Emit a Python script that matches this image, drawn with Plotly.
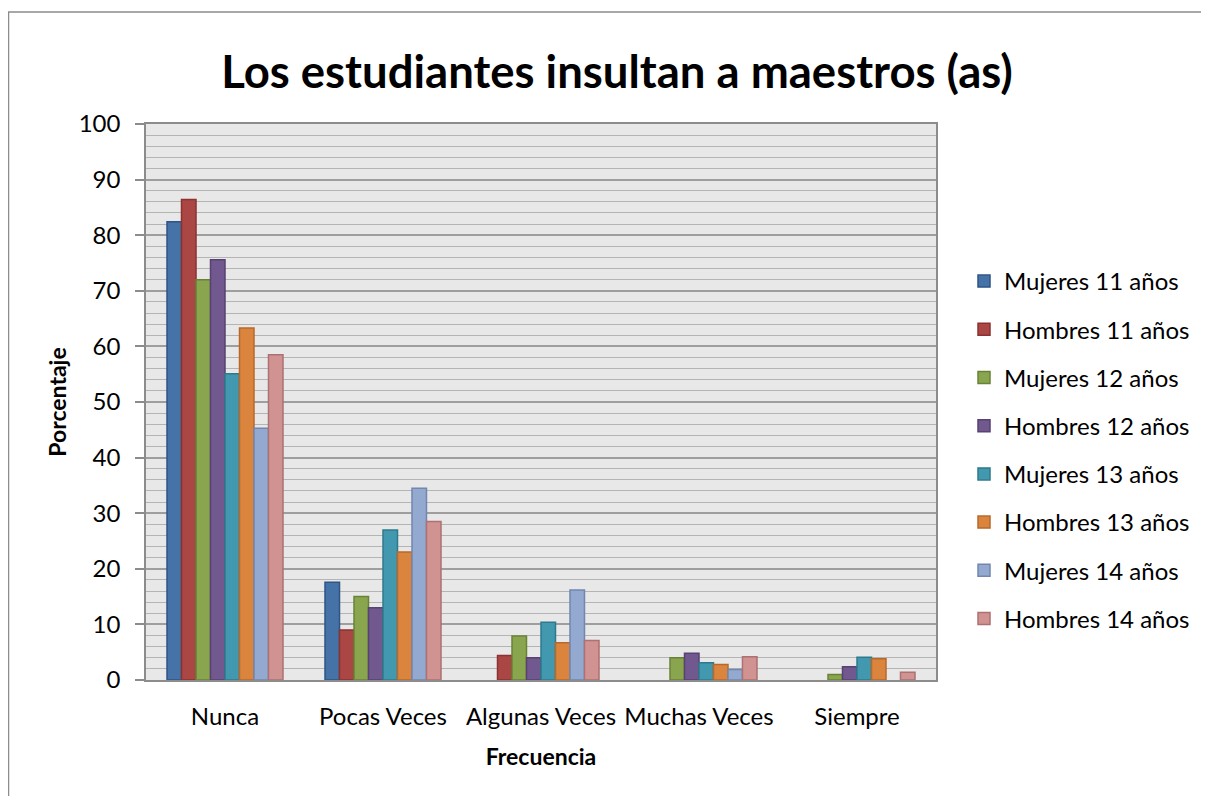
import plotly.graph_objects as go

categories = ["Nunca", "Pocas Veces", "Algunas Veces", "Muchas Veces", "Siempre"]
series_names = ["Mujeres 11 años", "Hombres 11 años", "Mujeres 12 años", "Hombres 12 años",
                "Mujeres 13 años", "Hombres 13 años", "Mujeres 14 años", "Hombres 14 años"]
mujeres_11 = [82.4, 17.6, 0.0, 0.0, 0.0]
hombres_11 = [86.4, 9.0, 4.4, 0.0, 0.0]
mujeres_12 = [72.0, 15.0, 7.9, 4.0, 1.0]
hombres_12 = [75.6, 13.0, 4.0, 4.8, 2.4]
mujeres_13 = [55.1, 27.0, 10.4, 3.1, 4.1]
hombres_13 = [63.3, 23.0, 6.7, 2.8, 3.8]
mujeres_14 = [45.3, 34.5, 16.2, 1.9, 0.0]
hombres_14 = [58.5, 28.5, 7.1, 4.2, 1.4]
series_values = [mujeres_11, hombres_11, mujeres_12, hombres_12,
                 mujeres_13, hombres_13, mujeres_14, hombres_14]
y_ticks = [0, 10, 20, 30, 40, 50, 60, 70, 80, 90, 100]

fills = ["#4572A7", "#AA4643", "#89A54E", "#71588F", "#4198AF", "#DB843D", "#93A9CF", "#D19392"]
borders = ["#2F5486", "#8A3330", "#6A8237", "#574270", "#2E7A8D", "#B8692A", "#7286B0", "#AC7170"]

FONT = "Lato"

fig = go.Figure()
for i, (name, vals) in enumerate(zip(series_names, series_values)):
    fig.add_trace(go.Bar(
        x=categories, y=[v if v else None for v in vals], name=name,
        marker=dict(color=fills[i], line=dict(color=borders[i], width=1.5)),
        legendgroup=f"g{i}",
    ))

# page offset of body margin
OFF = 8
W, H = 1209 - OFF, 796 - OFF
# plot area geometry in page px
L, R, T, B = 146 - OFF, 936 - OFF, 124 - OFF, 680 - OFF
pw, ph = R - L, B - T

def px_x(x):
    return (x - OFF - L) / pw

def px_y(y):
    return (B - (y - OFF)) / ph

shapes = [
    dict(type="rect", xref="paper", yref="paper",
         x0=px_x(8.5), x1=px_x(1215), y0=px_y(12), y1=px_y(805),
         line=dict(color="#8C8C8C", width=1.5), fillcolor="rgba(0,0,0,0)", layer="below"),
]

fig.update_layout(
    width=W, height=H,
    margin=dict(l=L, r=W - R, t=T, b=H - B, autoexpand=False),
    paper_bgcolor="white",
    plot_bgcolor="#E8E8E8",
    barmode="group",
    bargap=0.266,
    bargroupgap=0,
    font=dict(family=FONT, size=24, color="black"),
    title=dict(text="<b>Los estudiantes insultan a maestros (as)</b>",
               font=dict(family=FONT, size=45.5, color="black"),
               x=(617 - OFF) / W, xanchor="center", xref="container",
               y=1 - (72 - OFF) / H, yanchor="middle", yref="container"),
    legend=dict(x=px_x(964), xanchor="left", y=px_y(259), yanchor="top",
                font=dict(family=FONT, size=24, color="black"),
                traceorder="grouped", tracegroupgap=14,
                itemwidth=30, bgcolor="rgba(0,0,0,0)"),
    shapes=shapes,
    xaxis=dict(
        title=dict(text="<b>Frecuencia</b>", font=dict(family=FONT, size=23), standoff=20),
        showline=True, linecolor="#8C8C8C", linewidth=1.5,
        showgrid=False, ticks="", tickfont=dict(family=FONT, size=24),
        mirror=True, ticklabelstandoff=14,
    ),
    yaxis=dict(
        title=dict(text="<b>Porcentaje</b>", font=dict(family=FONT, size=23), standoff=6),
        range=[0, 100], tickvals=y_ticks, ticktext=[str(v) for v in y_ticks],
        showline=True, linecolor="#8C8C8C", linewidth=1.5, mirror=True,
        ticks="outside", ticklen=9, tickcolor="#8C8C8C", tickwidth=1.5,
        tickfont=dict(family=FONT, size=24),
        showgrid=True, gridcolor="#9E9E9E", gridwidth=1.5,
        minor=dict(dtick=2, showgrid=True, gridcolor="#B4B4B4", gridwidth=1.2, ticks=""),
        zeroline=False, ticklabelstandoff=10,
    ),
)

fig.write_html("out.html")
